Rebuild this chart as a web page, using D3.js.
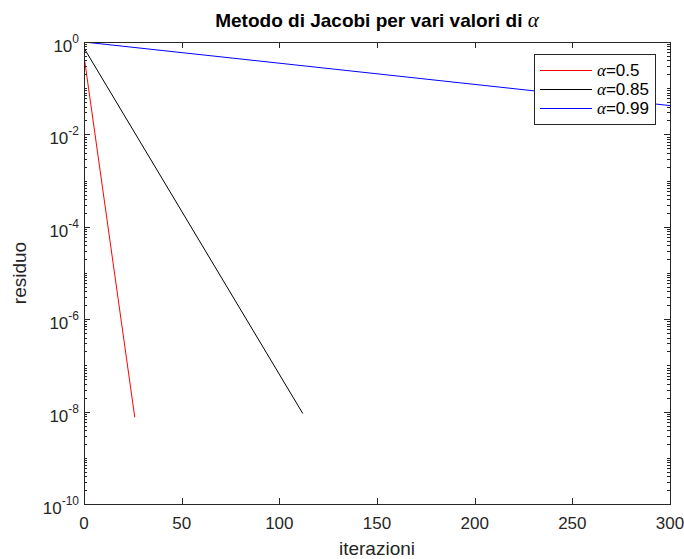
<!DOCTYPE html>
<html>
<head>
<meta charset="utf-8">
<script src="https://cdn.jsdelivr.net/npm/d3@7"></script>
<style>
  html, body { margin: 0; padding: 0; background: #fff; }
  svg { display: block; }
</style>
</head>
<body>
<svg id="chart" width="684" height="559"></svg>
<script>
// ---- data ----
const alphaLabels = ["0.5", "0.85", "0.99"];
const seriesColors = ["#ff0000", "#000000", "#0000ff"];
const iterations05 = [0, 26];
const residuals05 = [0.5, 7.5e-9];
const iterations085 = [0, 112];
const residuals085 = [0.74, 9.1e-9];
const iterations099 = [0, 300];
const residuals099 = [1.0, 0.042];
const xTicks = [0, 50, 100, 150, 200, 250, 300];
const yTickExponents = [0, -2, -4, -6, -8, -10];
const titleText = "Metodo di Jacobi per vari valori di ";
const xLabelText = "iterazioni";
const yLabelText = "residuo";

// ---- layout ----
const W = 684, H = 559;
const plot = { left: 84, right: 670, top: 42, bottom: 504 };
const axisColor = "#262626";
const fontFamily = "'Liberation Sans', Arial, Helvetica, sans-serif";
const serifFamily = "'Liberation Serif', 'DejaVu Serif', serif";
const tickFont = 17;

const svg = d3.select("#chart");
svg.append("rect").attr("width", W).attr("height", H).attr("fill", "#fff");

const x = d3.scaleLinear().domain([0, 300]).range([plot.left, plot.right]);
const y = d3.scaleLog().domain([1e-10, 1]).range([plot.bottom, plot.top]);

// clip
svg.append("defs").append("clipPath").attr("id", "clip")
  .append("rect")
  .attr("x", plot.left).attr("y", plot.top)
  .attr("width", plot.right - plot.left).attr("height", plot.bottom - plot.top);

// ---- series ----
const series = [
  { it: iterations05, res: residuals05 },
  { it: iterations085, res: residuals085 },
  { it: iterations099, res: residuals099 }
].map((s, i) => ({
  label: alphaLabels[i],
  color: seriesColors[i],
  points: s.it.map((k, j) => [k, s.res[j]])
}));

const line = d3.line().x(d => x(d[0])).y(d => y(d[1]));
const gLines = svg.append("g").attr("clip-path", "url(#clip)");
series.forEach(s => {
  gLines.append("path")
    .attr("d", line(s.points))
    .attr("fill", "none")
    .attr("stroke", s.color)
    .attr("stroke-width", 1);
});

// ---- axes (MATLAB style: inward ticks, box) ----
const gAx = svg.append("g");
const majorLen = 6, minorLen = 3;

// x ticks bottom & top
xTicks.forEach(t => {
  const px = Math.round(x(t)) + 0.5;
  gAx.append("line").attr("x1", px).attr("x2", px)
    .attr("y1", plot.bottom).attr("y2", plot.bottom - majorLen)
    .attr("stroke", axisColor);
  gAx.append("line").attr("x1", px).attr("x2", px)
    .attr("y1", plot.top).attr("y2", plot.top + majorLen)
    .attr("stroke", axisColor);
  gAx.append("text")
    .attr("x", x(t)).attr("y", plot.bottom + 25)
    .attr("text-anchor", "middle")
    .attr("font-family", fontFamily).attr("font-size", tickFont)
    .attr("fill", axisColor)
    .text(t);
});

// y minor ticks
for (let e = -10; e < 0; e++) {
  for (let m = 1; m <= 9; m++) {
    const v = m * Math.pow(10, e);
    if (m === 1 && e % 2 === 0) continue;
    const py = Math.round(y(v)) + 0.5;
    gAx.append("line").attr("x1", plot.left).attr("x2", plot.left + minorLen)
      .attr("y1", py).attr("y2", py).attr("stroke", axisColor);
    gAx.append("line").attr("x1", plot.right).attr("x2", plot.right - minorLen)
      .attr("y1", py).attr("y2", py).attr("stroke", axisColor);
  }
}
// y major ticks & labels
yTickExponents.forEach(e => {
  const v = Math.pow(10, e);
  const py = Math.round(y(v)) + 0.5;
  gAx.append("line").attr("x1", plot.left).attr("x2", plot.left + majorLen)
    .attr("y1", py).attr("y2", py).attr("stroke", axisColor);
  gAx.append("line").attr("x1", plot.right).attr("x2", plot.right - majorLen)
    .attr("y1", py).attr("y2", py).attr("stroke", axisColor);
  const t = gAx.append("text")
    .attr("x", plot.left - 5).attr("y", y(v) + 10)
    .attr("text-anchor", "end")
    .attr("font-family", fontFamily).attr("font-size", tickFont)
    .attr("fill", axisColor);
  t.append("tspan").text("10");
  t.append("tspan").attr("dy", -9).attr("font-size", 12).text(String(e));
});

// box
gAx.append("rect")
  .attr("x", plot.left + 0.5).attr("y", plot.top + 0.5)
  .attr("width", plot.right - plot.left).attr("height", plot.bottom - plot.top)
  .attr("fill", "none").attr("stroke", axisColor).attr("stroke-width", 1);

// ---- labels ----
const title = svg.append("text")
  .attr("x", (plot.left + plot.right) / 2).attr("y", 27)
  .attr("text-anchor", "middle")
  .attr("font-family", fontFamily).attr("font-size", 19).attr("font-weight", "bold")
  .attr("fill", "#000");
title.append("tspan").text(titleText);
title.append("tspan").attr("font-family", serifFamily)
  .attr("font-style", "italic").attr("font-weight", "normal").attr("font-size", 21).text("α");

svg.append("text")
  .attr("x", (plot.left + plot.right) / 2).attr("y", 555)
  .attr("text-anchor", "middle")
  .attr("font-family", fontFamily).attr("font-size", 19)
  .attr("fill", axisColor)
  .text(xLabelText);

svg.append("text")
  .attr("transform", `translate(26, ${(plot.top + plot.bottom) / 2}) rotate(-90)`)
  .attr("text-anchor", "middle")
  .attr("font-family", fontFamily).attr("font-size", 19)
  .attr("fill", axisColor)
  .text(yLabelText);

// ---- legend ----
const lg = { left: 534, right: 655, top: 54, bottom: 124 };
const gLeg = svg.append("g");
gLeg.append("rect")
  .attr("x", lg.left + 0.5).attr("y", lg.top + 0.5)
  .attr("width", lg.right - lg.left).attr("height", lg.bottom - lg.top)
  .attr("fill", "#fff").attr("stroke", axisColor);
const rowH = 19;
const firstRow = lg.top + 16;
series.forEach((s, i) => {
  const cy = firstRow + rowH * i;
  gLeg.append("line")
    .attr("x1", lg.left + 6).attr("x2", lg.left + 58)
    .attr("y1", Math.round(cy) + 0.5).attr("y2", Math.round(cy) + 0.5)
    .attr("stroke", s.color).attr("stroke-width", 1);
  const t = gLeg.append("text")
    .attr("x", lg.left + 63).attr("y", cy + 6)
    .attr("font-family", fontFamily).attr("font-size", 17)
    .attr("fill", "#000");
  t.append("tspan").attr("font-family", serifFamily)
    .attr("font-style", "italic").text("α");
  t.append("tspan").text("=" + s.label);
});
</script>
</body>
</html>
